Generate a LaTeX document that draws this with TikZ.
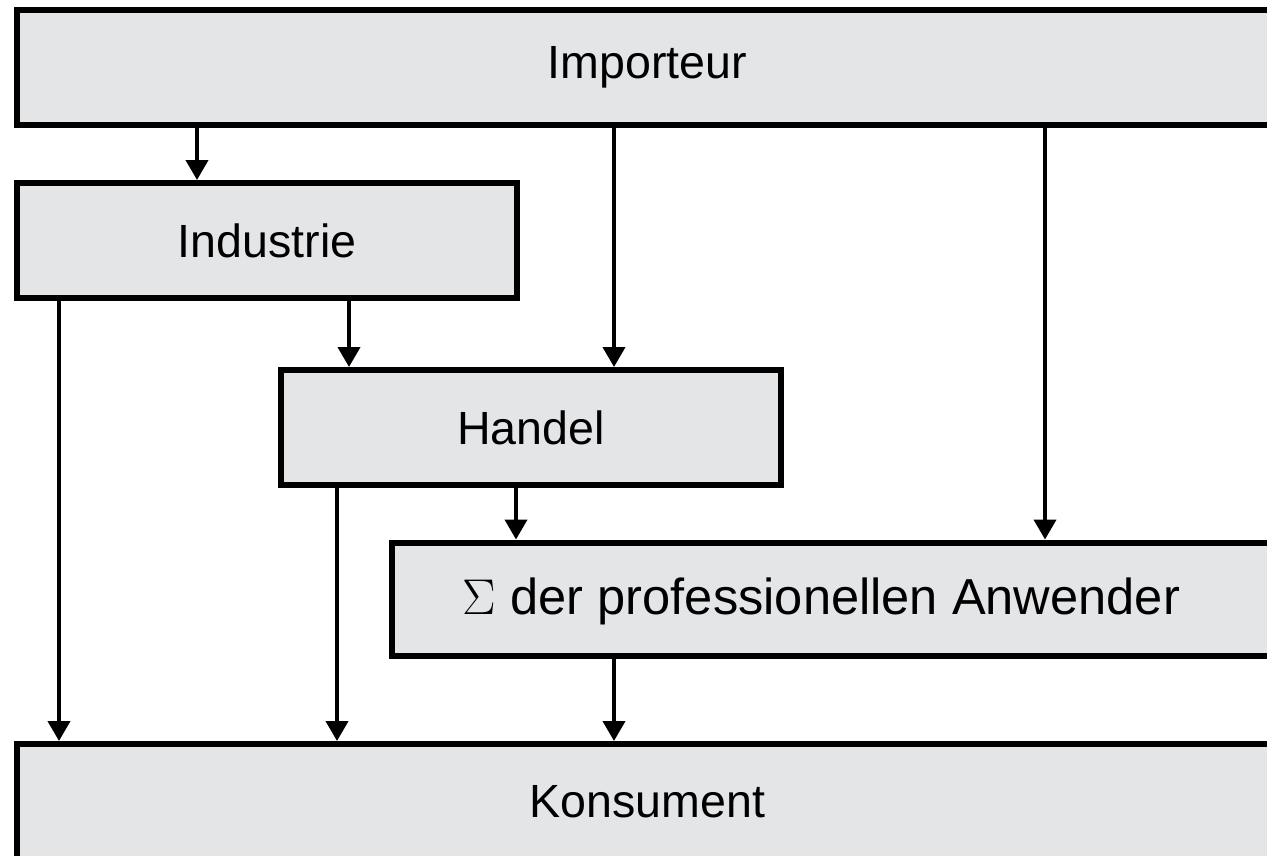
\documentclass[tikz,border=0pt]{standalone}
\usepackage{fontspec}
\setmainfont{Liberation Sans}
\usetikzlibrary{arrows.meta}
\definecolor{boxgray}{RGB}{228,229,231}
\tikzset{
	box/.style={draw=black, fill=boxgray, line width=0.12cm, inner sep=0pt,
		font=\fontsize{26.5}{30}\selectfont},
	arr/.style={black, line width=0.08cm, -{Triangle[width=0.44cm, length=0.4cm]}}
}
\begin{document}
\begin{tikzpicture}[x=0.02cm, y=-0.02cm]
	\useasboundingbox (0, 0) rectangle (1267, 855);
	\node [box, minimum width=25.22cm, minimum height=2.3cm] at (647.5, 67.5) (imp) {Importeur};
	\node [box, minimum width=10cm, minimum height=2.3cm] at (267, 240.5) (ind) {Industrie};
	\node [box, minimum width=10cm, minimum height=2.3cm] at (531, 427.5) (han) {Handel};
	\node [box, minimum width=17.96cm, minimum height=2.28cm] at (841, 599.5) (sum) {};
	\node [font=\fontsize{28.8}{32}\selectfont, inner sep=0pt] at (821.5, 601) (sumtext) {\scalebox{1.15}{$\Sigma$} der professionellen Anwender};
	\node [box, minimum width=25.22cm, minimum height=2.32cm] at (647.5, 802) (kon) {Konsument};

	% arrow columns
	\coordinate (a) at (59, 0);
	\coordinate (b) at (197, 0);
	\coordinate (c) at (337, 0);
	\coordinate (d) at (349, 0);
	\coordinate (e) at (516, 0);
	\coordinate (f) at (614, 0);
	\coordinate (g) at (1045, 0);

	\draw [arr] (imp.south -| b) -- (ind.north -| b);
	\draw [arr] (imp.south -| f) -- (han.north -| f);
	\draw [arr] (imp.south -| g) -- (sum.north -| g);
	\draw [arr] (ind.south -| a) -- (kon.north -| a);
	\draw [arr] (ind.south -| d) -- (han.north -| d);
	\draw [arr] (han.south -| c) -- (kon.north -| c);
	\draw [arr] (han.south -| e) -- (sum.north -| e);
	\draw [arr] (sum.south -| f) -- (kon.north -| f);
\end{tikzpicture}
\end{document}
